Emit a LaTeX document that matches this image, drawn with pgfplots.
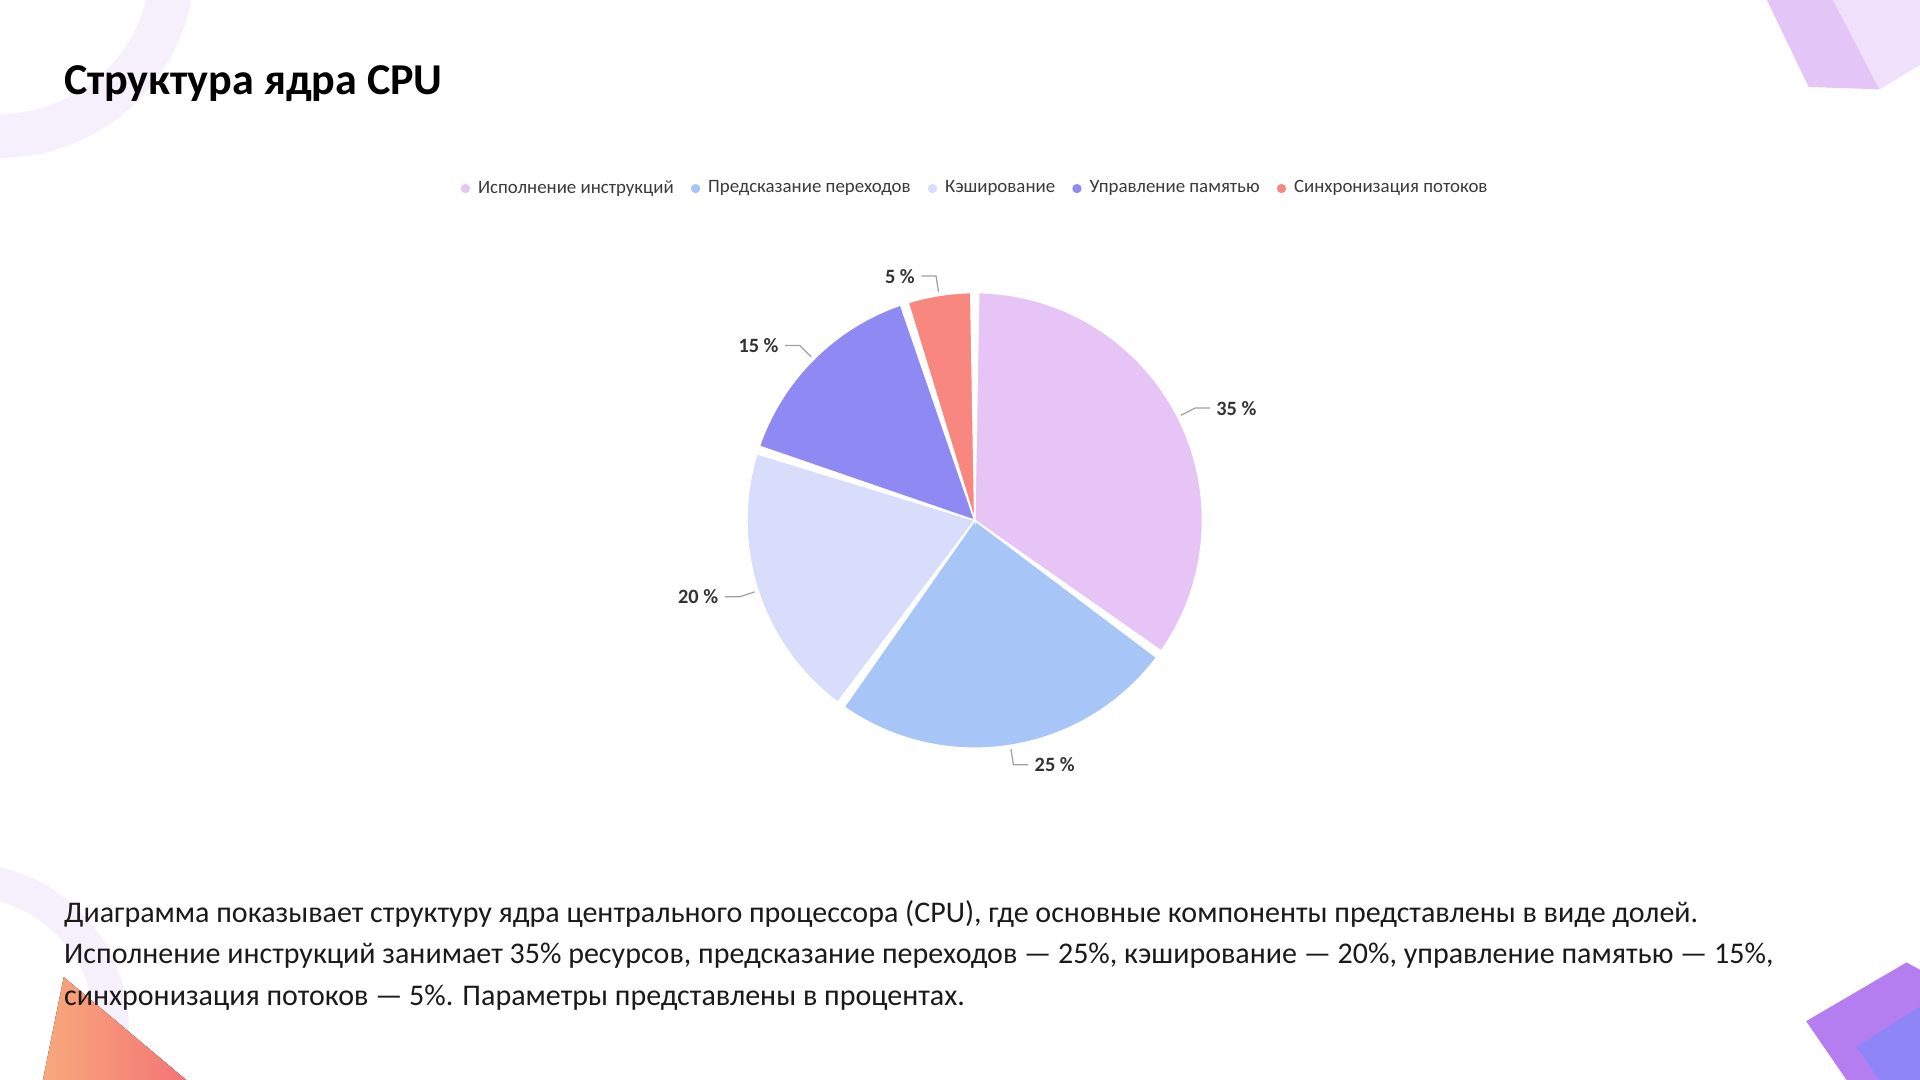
\documentclass[border=0pt]{standalone}
\usepackage{pgfplots}
\pgfplotsset{compat=1.18}
\usepackage{pgfplotstable}
\usepackage{fontspec}
\setmainfont{Carlito}

\definecolor{pie0}{HTML}{E6C5F6}
\definecolor{pie1}{HTML}{A8C5F8}
\definecolor{pie2}{HTML}{D7DDFA}
\definecolor{pie3}{HTML}{8F89F3}
\definecolor{pie4}{HTML}{F8877F}
\definecolor{leader}{HTML}{A0A0A0}
\definecolor{labeltext}{HTML}{333333}
\definecolor{legendtext}{HTML}{3A3A3A}
\definecolor{bodytext}{HTML}{1A1A1A}
\definecolor{ringlav}{HTML}{F6F0FD}
\definecolor{cubeA}{HTML}{E3C5F7}
\definecolor{cubeB}{HTML}{F1E0FB}
\definecolor{cubeC}{HTML}{B47EF1}
\definecolor{cubeD}{HTML}{8E86F6}
\definecolor{triA}{HTML}{F8A97C}
\definecolor{triB}{HTML}{F37576}

% shares of the CPU core, in percent, clockwise from 12 o'clock
\pgfplotstableread{
share
35
25
20
15
5
}\piedata

\begin{document}
\begin{tikzpicture}
\begin{axis}[
    x=0.5pt, y=0.5pt,
    xmin=0, xmax=1568, ymin=0, ymax=882,
    scale only axis, hide axis, clip=false,
    legend columns=5,
    legend image code/.code={\fill[#1, draw=none] (0pt,0pt) circle (1.9pt);},
    legend style={at={(0.5083,0.8254)}, anchor=center, draw=none, fill=none,
        font=\fontsize{7.7}{9}\selectfont, text=legendtext,
        nodes={inner sep=1.5pt},
        /tikz/every odd column/.append style={column sep=1.75pt},
        /tikz/every even column/.append style={column sep=5.5pt}},
]
% page background and corner decorations
\fill[white] (axis cs:0,0) rectangle (axis cs:1568,882);
\fill[ringlav] (axis cs:0,753) arc[start angle=-90, end angle=-10.9, radius=79.5pt]
    -- (axis cs:119.3,882) arc[start angle=-14.1, end angle=-90, radius=61.5pt] -- cycle;
\fill[ringlav] (axis cs:0,173.7) arc[start angle=77.2, end angle=-18.1, radius=67.5pt]
    -- (axis cs:69.5,0) arc[start angle=-22.9, end angle=73.9, radius=54pt] -- cycle;
\fill[left color=triA, right color=triB] (axis cs:35,0) -- (axis cs:52,84) -- (axis cs:152,0) -- cycle;
\fill[cubeA] (axis cs:1443,882) -- (axis cs:1477,811) -- (axis cs:1535,809) -- (axis cs:1497,882) -- cycle;
\fill[cubeB] (axis cs:1497,882) -- (axis cs:1535,809) -- (axis cs:1568,829) -- (axis cs:1568,882) -- cycle;
\fill[cubeC] (axis cs:1475,48) -- (axis cs:1557,96) -- (axis cs:1568,90) -- (axis cs:1568,0) -- (axis cs:1508,0) -- cycle;
\fill[cubeD] (axis cs:1516,27) -- (axis cs:1568,60) -- (axis cs:1568,0) -- (axis cs:1535,0) -- cycle;

% title and description
\node[anchor=base west, inner sep=0pt, font=\bfseries\fontsize{18}{21}\selectfont]
    at (axis cs:52,805) {Структура ядра CPU};
\node[anchor=base west, inner sep=0pt, text=bodytext, font=\fontsize{12.25}{15}\selectfont]
    at (axis cs:52,129) {Диаграмма показывает структуру ядра центрального процессора (CPU), где основные компоненты представлены в виде долей.};
\node[anchor=base west, inner sep=0pt, text=bodytext, font=\fontsize{12.25}{15}\selectfont]
    at (axis cs:52,95) {Исполнение инструкций занимает 35\% ресурсов, предсказание переходов — 25\%, кэширование — 20\%, управление памятью — 15\%,};
\node[anchor=base west, inner sep=0pt, text=bodytext, font=\fontsize{12.25}{15}\selectfont]
    at (axis cs:52,61) {синхронизация потоков — 5\%. Параметры представлены в процентах.};

% pie slices, leader lines and labels from the table
\xdef\cum{0}
\pgfplotsinvokeforeach{0,...,4}{
    \pgfplotstablegetelem{#1}{share}\of\piedata
    \let\val\pgfplotsretval
    \pgfmathsetmacro\sa{90-3.6*\cum}
    \pgfmathsetmacro\cumnew{\cum+\val}
    \xdef\cum{\cumnew}
    \pgfmathsetmacro\ea{90-3.6*\cum}
    \pgfmathsetmacro\ma{(\sa+\ea)/2}
    \pgfmathsetmacro\pa{\sa-1}
    \pgfmathsetmacro\pb{\ea+1}
    \pgfmathsetmacro\xa{796+189*cos(\ma)}
    \pgfmathsetmacro\ya{457+189*sin(\ma)}
    \pgfmathsetmacro\xb{796+202*cos(\ma)}
    \pgfmathsetmacro\yb{457+202*sin(\ma)}
    \pgfmathtruncatemacro\sgn{cos(\ma)>=0 ? 1 : -1}
    \pgfmathsetmacro\xc{\xb+12*\sgn}
    \pgfmathsetmacro\xl{\xc+5*\sgn}
    \ifnum\sgn>0 \def\anc{west}\else\def\anc{east}\fi
    \edef\cmd{%
        \noexpand\fill[pie#1, draw=white, line width=0.6pt] (axis cs:796,457) -- ++(\pa:93pt)
            arc[start angle=\pa, end angle=\pb, radius=93pt] -- cycle;
        \noexpand\draw[leader, line width=0.5pt] (axis cs:\xa,\ya) -- (axis cs:\xb,\yb) -- (axis cs:\xc,\yb);
        \noexpand\node[anchor=\anc, inner sep=0pt, text=labeltext,
            font=\noexpand\bfseries\noexpand\fontsize{8.3}{9}\noexpand\selectfont]
            at (axis cs:\xl,\yb) {\val\noexpand~\noexpand\%};
    }%
    \cmd
}

\addlegendimage{fill=pie0}
\addlegendimage{fill=pie1}
\addlegendimage{fill=pie2}
\addlegendimage{fill=pie3}
\addlegendimage{fill=pie4}
\legend{Исполнение инструкций, Предсказание переходов, Кэширование, Управление памятью, Синхронизация потоков}
\end{axis}
\end{tikzpicture}
\end{document}
